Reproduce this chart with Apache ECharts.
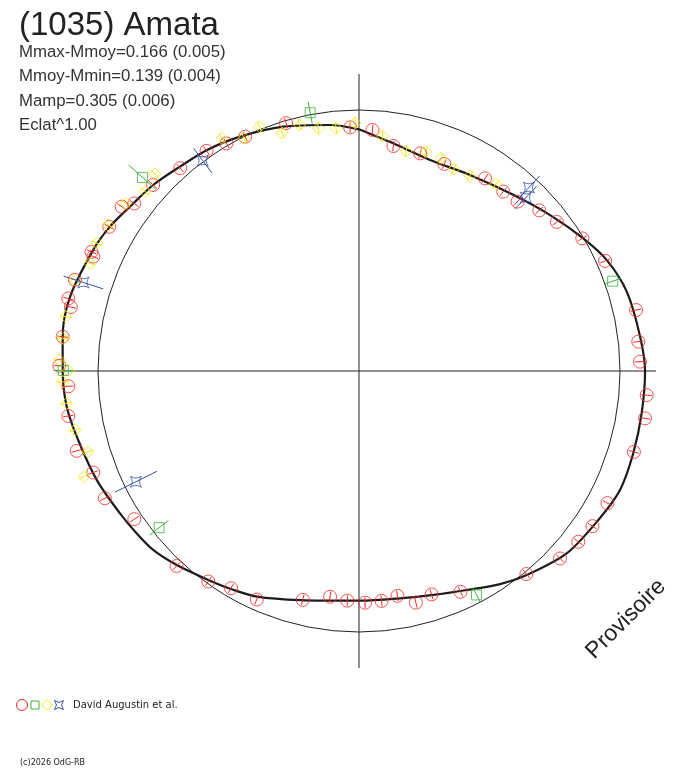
<!DOCTYPE html>
<html>
<head>
<meta charset="utf-8">
<script src="https://cdn.jsdelivr.net/npm/echarts/dist/echarts.min.js"></script>
<style>
  html, body { margin: 0; padding: 0; background: #fff; }
  #polarplot { width: 688px; height: 768px; }
</style>
</head>
<body>
<div id="polarplot"></div>
<script>
'use strict';

// angles: rotation phase in degrees, clockwise from top
// radius: relative to the reference circle (= 1)
var fitAngle = [0, 9.5, 18.6, 29.5, 41.2, 50.8, 59.4, 65.9, 73.5, 83.0, 90.1, 98.5, 106.7, 114.5, 121.9,
  131.3, 140.6, 146.5, 153.8, 161.6, 169.8, 179.8, 194.4, 204.4, 209.9, 215.8, 223.2, 229.0, 233.9,
  239.2, 247.4, 256.2, 263.0, 269.6, 276.6, 284.4, 294.5, 300.1, 306.6, 312.1, 318.8, 325.4, 333.1,
  342.8, 353.3, 360];
var fitRadius = [.926, .878, .853, .863, .897, .945, .998, 1.040, 1.070, 1.085, 1.096, 1.095, 1.097, 1.099, 1.080,
  1.059, 1.012, .979, .935, .904, .885, .880, .906, .949, .967, .987, 1.020, 1.045, 1.055,
  1.066, 1.088, 1.108, 1.128, 1.135, 1.143, 1.143, 1.119, 1.103, 1.077, 1.063, 1.041, 1.028, 1.007,
  .980, .949, .926];

// [radius, angle, error]
var redObs = [[.934, 357.9, .02], [.925, 3.2, .02], [.872, 8.7, .02], [.866, 15.7, .02], [.858, 22.4, .02],
  [.882, 33.2, .02], [.882, 38.8, .02], [.889, 43.1, .02], [.925, 48.3, .02], [.949, 53.0, .02],
  [.995, 59.3, .02], [1.033, 65.9, .02], [1.087, 77.6, .02], [1.076, 84.0, .02], [1.077, 88.1, .02],
  [1.106, 94.8, .02], [1.111, 99.4, .02], [1.098, 106.4, .02], [1.078, 118.0, .02], [1.074, 123.6, .02],
  [1.065, 127.9, .02], [1.053, 133.0, .02], [1.008, 140.5, .02], [.931, 155.3, .02], [.900, 162.0, .02],
  [.914, 166.2, .02], [.874, 170.3, .02], [.885, 174.4, .02], [.888, 178.5, .02], [.881, 182.9, .02],
  [.872, 187.3, .02], [.903, 193.8, .02], [.959, 204.1, .02], [.966, 210.5, .02], [.992, 215.6, .02],
  [1.023, 223.1, .02], [1.031, 236.6, .02], [1.089, 243.4, .02], [1.090, 249.1, .02], [1.124, 254.2, .02],
  [1.127, 261.2, .02], [1.115, 267.0, .02], [1.148, 271.0, .02], [1.143, 276.6, .02], [1.131, 282.5, .02],
  [1.148, 284.0, .02], [1.143, 287.8, .02], [1.108, 293.3, .02], [1.122, 294.0, .02], [1.105, 300.0, .02],
  [1.106, 304.7, .02], [1.074, 306.7, .02], [1.063, 312.1, .02], [1.036, 318.6, .02], [1.026, 325.3, .02],
  [1.009, 329.8, .02], [.998, 334.1, .02], [.990, 343.6, .02]];
var yellowObs = [[.951, 359.1, .02], [.905, 5.7, .02], [.862, 12.1, .02], [.878, 16.9, .02], [.873, 21.1, .02],
  [.855, 25.2, .02], [.860, 29.6, .02], [.887, 36.2, .02], [.934, 354.6, .02], [.943, 350.5, .02],
  [.970, 346.4, .02], [.958, 342.1, .02], [1.011, 337.8, .02], [.995, 333.7, .02], [1.035, 329.5, .02],
  [1.087, 314.0, .02], [1.070, 310.0, .02], [1.100, 305.7, .02], [1.112, 300.2, .02], [1.118, 296.0, .02],
  [1.110, 291.8, .02], [1.143, 287.8, .02], [1.142, 280.5, .02], [1.140, 276.3, .02], [1.149, 272.1, .02],
  [1.114, 270.1, .02], [1.136, 267.9, .02], [1.127, 263.7, .02], [1.111, 258.3, .02], [1.084, 253.4, .02],
  [1.129, 249.0, .02]];
var greenObs = [[1.007, 349.3, .042], [1.113, 311.8, .071], [1.031, 70.5, .033], [.969, 152.3, .031],
  [.973, 231.9, .045], [1.133, 270.1, .037]];
var blueObs = [[1.004, 323.4, .059], [.958, 42.8, .06], [.922, 43.9, .06], [1.109, 287.8, .080],
  [.954, 243.6, .090]];

var statLines = ['Mmax-Mmoy=0.166 (0.005)', 'Mmoy-Mmin=0.139 (0.004)', 'Mamp=0.305 (0.006)', 'Eclat^1.00'];

var RED = '#f02828', YELLOW = '#f2ea00', GREEN = '#3cb43c', BLUE = '#3553a3';
var STAR = 'path://M0,0 Q6,4 12,0 Q8,6 12,12 Q6,8 0,12 Q4,6 0,0 Z';

// pixel sizes of the plot
var CX = 359, CY = 371, REF_PX = 261, AXIS_PX = 297, DATA_PX = 320;

window.onload = function() {
  drawPolar();
};

function errorBars(data, color) {
  return {
    type: 'custom',
    coordinateSystem: 'polar',
    polarIndex: 0,
    data: data,
    clip: false,
    z: 4,
    renderItem: function(params, api) {
      var r = api.value(0), a = api.value(1), e = api.value(2);
      var p1 = api.coord([r - e, a]);
      var p2 = api.coord([r + e, a]);
      return {
        type: 'line',
        shape: { x1: p1[0], y1: p1[1], x2: p2[0], y2: p2[1] },
        style: { stroke: color, lineWidth: 1 }
      };
    }
  };
}

function markers(data, symbol, size, color) {
  return {
    type: 'scatter',
    coordinateSystem: 'polar',
    polarIndex: 0,
    clip: false,
    symbol: symbol,
    symbolSize: size,
    z: 5,
    itemStyle: { color: 'rgba(0,0,0,0)', borderColor: color, borderWidth: 1 },
    data: data.map(function(d) { return [d[0], d[1]]; })
  };
}

function hiddenAngle(idx, extra) {
  var ax = {
    polarIndex: idx,
    type: 'value',
    min: 0,
    max: 360,
    startAngle: 90,
    clockwise: true,
    axisLine: { show: false },
    axisTick: { show: false },
    axisLabel: { show: false },
    splitLine: { show: false }
  };
  for (var k in extra) ax[k] = extra[k];
  return ax;
}

function drawPolar() {
  var myChart = echarts.init(document.getElementById('polarplot'));

  var fit = fitAngle.map(function(a, i) { return [fitRadius[i], a]; });

  var option = {
    animation: false,
    backgroundColor: '#fff',
    textStyle: { fontFamily: 'Liberation Sans, Arial, sans-serif' },
    title: [{
      text: '(1035) Amata',
      left: 19,
      top: 9,
      padding: 0,
      textStyle: { fontSize: 33, fontWeight: 'normal', color: '#222' }
    }, {
      text: statLines.join('\n'),
      left: 19,
      top: 40,
      padding: 0,
      textStyle: { fontSize: 16.8, fontWeight: 'normal', lineHeight: 24.5, color: '#333' }
    }],
    polar: [
      { center: [CX, CY], radius: DATA_PX },   // data (radius 1 = reference circle)
      { center: [CX, CY], radius: AXIS_PX },   // cross hair
      { center: [CX, CY], radius: REF_PX }     // reference circle
    ],
    angleAxis: [
      hiddenAngle(0, {}),
      hiddenAngle(1, { interval: 90, splitLine: { show: true, lineStyle: { color: '#222', width: 1 } } }),
      hiddenAngle(2, { axisLine: { show: true, lineStyle: { color: '#222', width: 1 } } })
    ],
    radiusAxis: [
      { polarIndex: 0, type: 'value', min: 0, max: DATA_PX / REF_PX, show: false },
      { polarIndex: 1, type: 'value', min: 0, max: 1, show: false },
      { polarIndex: 2, type: 'value', min: 0, max: 1, show: false }
    ],
    series: [{
        type: 'line',
        coordinateSystem: 'polar',
        polarIndex: 0,
        data: fit,
        symbol: 'none',
        smooth: 0.3,
        clip: false,
        z: 3,
        lineStyle: { color: '#1c1c1c', width: 2.2 }
      },
      errorBars(redObs, RED),
      errorBars(yellowObs, YELLOW),
      errorBars(greenObs, GREEN),
      errorBars(blueObs, BLUE),
      markers(redObs, 'circle', 13, RED),
      markers(yellowObs, 'diamond', 12, YELLOW),
      markers(greenObs, 'rect', 10, GREEN),
      markers(blueObs, STAR, 11, BLUE)
    ],
    graphic: [
      { type: 'circle', shape: { cx: 22, cy: 705, r: 5.5 }, style: { fill: 'none', stroke: RED, lineWidth: 1 } },
      { type: 'rect', shape: { x: 31, y: 701, width: 8, height: 8 }, style: { fill: 'none', stroke: GREEN, lineWidth: 1 } },
      { type: 'polygon', shape: { points: [[47, 699.5], [52.5, 705], [47, 710.5], [41.5, 705]] }, style: { fill: 'none', stroke: YELLOW, lineWidth: 1 } },
      { type: 'polygon', shape: { points: [[54.5, 700.5], [59, 702.5], [63.5, 700.5], [61.5, 705], [63.5, 709.5], [59, 707.5], [54.5, 709.5], [56.5, 705]] }, style: { fill: 'none', stroke: BLUE, lineWidth: 1 } },
      { type: 'text', x: 73, y: 705, style: { text: 'David Augustin et al.', fontSize: 10, fontFamily: 'DejaVu Sans', fill: '#222', verticalAlign: 'middle' } },
      { type: 'text', x: 20, y: 763, style: { text: '(c)2026 OdG-RB', fontSize: 8, fontFamily: 'DejaVu Sans', fill: '#222', verticalAlign: 'middle' } },
      { type: 'text', x: 626, y: 619, rotation: Math.PI / 4, style: { text: 'Provisoire', fontSize: 23, fontFamily: 'Liberation Sans', fill: '#222', align: 'center', verticalAlign: 'middle' } }
    ]
  };

  myChart.setOption(option);
}
</script>
</body>
</html>
